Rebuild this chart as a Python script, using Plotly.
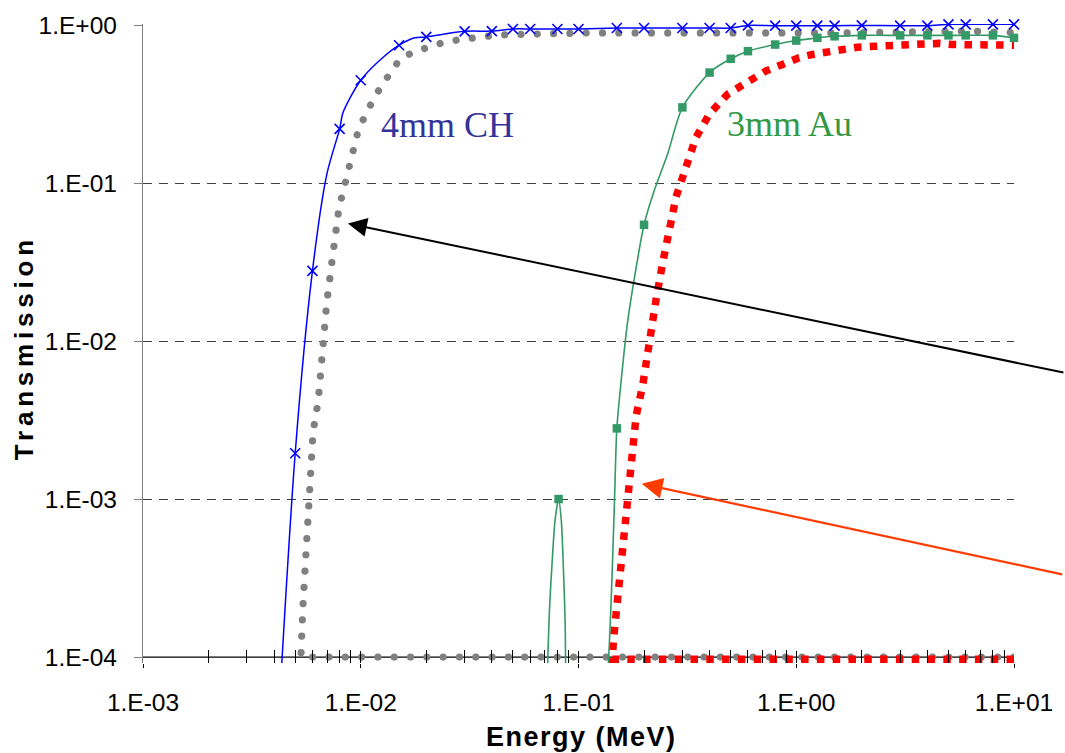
import numpy as np
import plotly.graph_objects as go

# ---------------- data ----------------
x_tick_vals = [1e-3, 1e-2, 1e-1, 1e0, 1e1]
x_tick_text = ["1.E-03", "1.E-02", "1.E-01", "1.E+00", "1.E+01"]
y_tick_vals = [1e-4, 1e-3, 1e-2, 1e-1, 1e0]
y_tick_text = ["1.E-04", "1.E-03", "1.E-02", "1.E-01", "1.E+00"]
x_minor_vals = [m * 10.0 ** d for d in (-3, -2, -1, 0) for m in range(2, 10)]

# 4mm CH : blue line + x markers
ch_line_E = [0.004, 0.005, 0.006, 0.007, 0.008, 0.0083, 0.01, 0.0126, 0.015, 0.0177, 0.02,
             0.03, 0.04, 0.05, 0.06, 0.08, 0.1, 0.15, 0.2, 0.3, 0.4, 0.5, 0.6, 0.8, 1.0,
             1.25, 1.5, 2, 3, 4, 5, 6, 8, 10]
ch_line_T = [1.3e-5, 1.95e-3, 0.0278, 0.115, 0.22, 0.28, 0.447, 0.62, 0.745, 0.83, 0.841,
             0.912, 0.915, 0.944, 0.944, 0.944, 0.944, 0.957, 0.957, 0.957, 0.957, 0.957,
             0.994, 0.99, 0.99, 0.99, 0.99, 0.994, 0.99, 0.99, 1.01, 1.01, 1.01, 1.01]
ch_mark_E = [0.005, 0.006, 0.008, 0.01, 0.015, 0.02, 0.03, 0.04, 0.05, 0.06, 0.08, 0.1,
             0.15, 0.2, 0.3, 0.4, 0.5, 0.6, 0.8, 1.0, 1.25, 1.5, 2, 3, 4, 5, 6, 8, 10]
ch_mark_T = [1.95e-3, 0.0278, 0.22, 0.447, 0.745, 0.841, 0.912, 0.915, 0.944, 0.944, 0.944,
             0.944, 0.957, 0.957, 0.957, 0.957, 0.957, 0.994, 0.99, 0.99, 0.99, 0.99, 0.994,
             0.99, 0.99, 1.01, 1.01, 1.01, 1.01]

# grey dotted curve (runs along the floor, then up)
gray_E = [10, 0.00531, 0.00542, 0.00559, 0.00579, 0.00588, 0.00604, 0.00637, 0.00662,
          0.00698, 0.00746, 0.00779, 0.00796, 0.0083, 0.0086, 0.00897, 0.00939, 0.0098,
          0.01051, 0.01139, 0.01245, 0.01359, 0.0151, 0.01738, 0.0205, 0.0241, 0.02866,
          0.03394, 0.04046, 0.0479, 0.0675, 0.1123, 0.359, 1.75, 6.0, 10]
gray_T = [1e-4, 1e-4, 2.04e-4, 4.08e-4, 8.3e-4, 1.67e-3, 2.67e-3, 4.12e-3, 8.5e-3, 0.0175,
          0.0361, 0.0557, 0.071, 0.088, 0.111, 0.1406, 0.177, 0.222, 0.276, 0.335, 0.4115,
          0.4995, 0.6054, 0.673, 0.734, 0.777, 0.809, 0.841, 0.857, 0.869, 0.882, 0.891,
          0.891, 0.891, 0.915, 0.895]

# 3mm Au : green line + square markers
au_line_E = [0.0717, 0.0738, 0.0759, 0.078, 0.081, 0.0834, 0.0852, 0.0868, 0.0876, 0.1,
             0.1355, 0.1413, 0.1463, 0.15, 0.157, 0.1684, 0.2, 0.2232, 0.2568, 0.3,
             0.4, 0.5, 0.6, 0.8, 1.0, 1.25, 1.5, 2, 3, 4, 5, 6, 8, 10]
au_line_T = [7e-5, 2.18e-4, 4.26e-4, 7.28e-4, 1.0e-3, 7.28e-4, 3.7e-4, 1.71e-4, 7e-5, 1e-6,
             7e-5, 2.29e-4, 9.7e-4, 2.8e-3, 5.6e-3, 0.0135, 0.0544, 0.0902, 0.153,
             0.301, 0.50, 0.611, 0.683, 0.752, 0.797, 0.829, 0.848, 0.86, 0.86, 0.86, 0.86,
             0.86, 0.86, 0.829]
au_mark_E = [0.081, 0.15, 0.2, 0.3, 0.4, 0.5, 0.6, 0.8, 1.0, 1.25, 1.5, 2, 3, 4, 5, 6, 8, 10]
au_mark_T = [1.0e-3, 2.8e-3, 0.0544, 0.301, 0.50, 0.611, 0.683, 0.752, 0.797, 0.829, 0.848,
             0.86, 0.86, 0.86, 0.86, 0.86, 0.86, 0.829]

# red dotted curve (floor, then up)
red_E = [10, 0.143, 0.1447, 0.1489, 0.1542, 0.1597, 0.1655, 0.1714, 0.1745, 0.184, 0.1972,
         0.2117, 0.2272, 0.2436, 0.2615, 0.2807, 0.3119, 0.3467, 0.399, 0.484, 0.6087,
         0.726, 0.865, 1.032, 1.188, 1.417, 1.911, 2.32, 3.186, 3.80, 4.53, 5.21, 6.22,
         7.41, 10]
red_T = [9.7e-5, 9.7e-5, 1.28e-4, 1.9e-4, 3.2e-4, 5.2e-4, 8.4e-4, 1.36e-3, 2.1e-3, 3.37e-3,
         5.26e-3, 0.0103, 0.0184, 0.0313, 0.0531, 0.0819, 0.1265, 0.195, 0.273, 0.365,
         0.4425, 0.512, 0.563, 0.621, 0.651, 0.683, 0.723, 0.734, 0.752, 0.765, 0.765,
         0.752, 0.752, 0.748, 0.745]

# text labels and arrow heads
label_text = ["4mm CH", "3mm Au"]
label_E = [0.0123, 0.477]
label_T = [0.232, 0.236]
arrow_head_E = [0.00873, 0.195]
arrow_head_T = [0.0555, 1.25e-3]

# ---------------- styling ----------------
W, H = 1065, 753
ML, MR, MT, MB = 143, 49, 19, 90
x_range = [-3, 1]
y_range = [-4.0377, 0.0063]
SANS = "Liberation Sans, Arial, sans-serif"
SERIF = "Liberation Serif, Times New Roman, serif"
BLUE = "#0000FF"
GREEN = "#339966"
GREY = "#808080"
RED = "#FF0000"

fig = go.Figure()

fig.add_trace(go.Scatter(x=gray_E, y=gray_T, mode="lines",
                         line=dict(color=GREY, width=7.2, dash="7px,9.3px"),
                         hoverinfo="skip", showlegend=False, cliponaxis=False))
fig.add_trace(go.Scatter(x=red_E, y=red_T, mode="lines",
                         line=dict(color=RED, width=7.5, dash="7.5px,8.3px"),
                         hoverinfo="skip", showlegend=False, cliponaxis=False))
fig.add_trace(go.Scatter(x=au_line_E, y=au_line_T, mode="lines",
                         line=dict(color=GREEN, width=1.6, shape="spline", smoothing=0.7),
                         hoverinfo="skip", showlegend=False))
fig.add_trace(go.Scatter(x=au_mark_E, y=au_mark_T, mode="markers",
                         marker=dict(symbol="square", size=8.5, color=GREEN),
                         hoverinfo="skip", showlegend=False, cliponaxis=False))
fig.add_trace(go.Scatter(x=ch_line_E, y=ch_line_T, mode="lines",
                         line=dict(color=BLUE, width=1.5, shape="spline", smoothing=0.8),
                         hoverinfo="skip", showlegend=False))
fig.add_trace(go.Scatter(x=ch_mark_E, y=ch_mark_T, mode="markers",
                         marker=dict(symbol="x-thin", size=10,
                                     line=dict(color=BLUE, width=1.6)),
                         hoverinfo="skip", showlegend=False, cliponaxis=False))
# invisible trace so that the overlaying tick axis is drawn
fig.add_trace(go.Scatter(x=ch_mark_E, y=ch_mark_T, xaxis="x2", mode="markers",
                         marker=dict(opacity=0), hoverinfo="skip", showlegend=False))

fig.update_layout(
    width=W, height=H, autosize=False,
    margin=dict(l=ML, r=MR, t=MT, b=MB),
    paper_bgcolor="white", plot_bgcolor="white",
    font=dict(family=SANS, size=24, color="black"),
    xaxis=dict(type="log", range=x_range, showgrid=False, zeroline=False,
               showline=False, tickmode="array", tickvals=x_tick_vals,
               ticktext=x_tick_text, ticks="outside", ticklen=4, tickwidth=1.3,
               tickcolor="black", ticklabelstandoff=14,
               tickfont=dict(family=SANS, size=24.5, color="black"),
               minor=dict(tickmode="array", tickvals=x_minor_vals, ticks="inside",
                          ticklen=13, tickwidth=1.2, tickcolor="black", showgrid=False)),
    xaxis2=dict(type="log", range=x_range, overlaying="x", anchor="y", side="bottom",
                showgrid=False, zeroline=False, showline=False, tickmode="array",
                tickvals=x_tick_vals, ticks="inside", ticklen=12, tickwidth=1.3,
                tickcolor="black", showticklabels=False),
    yaxis=dict(type="log", range=y_range, tickmode="array", tickvals=y_tick_vals,
               ticktext=y_tick_text, ticks="outside", ticklen=8, tickwidth=1.2,
               tickcolor=GREY, showline=True, linecolor=GREY, linewidth=1.3,
               showgrid=True, gridcolor="#404040", gridwidth=1, griddash="9px,7px",
               zeroline=False, ticklabelstandoff=12,
               tickfont=dict(family=SANS, size=24.5, color="black")),
)

# x axis line drawn at T = 1e-4
y_axis_frac = (np.log10(y_tick_vals[0]) - y_range[0]) / (y_range[1] - y_range[0])
fig.add_shape(type="line", xref="paper", yref="paper", x0=0, x1=1,
              y0=y_axis_frac, y1=y_axis_frac, line=dict(color="black", width=1.3),
              layer="between")

# axis titles
fig.add_annotation(xref="paper", yref="paper", x=-0.1363, y=0.493, xanchor="center",
                   yanchor="middle", textangle=-90, showarrow=False,
                   text='<span style="letter-spacing:4.8px"><b>Transmission</b></span>',
                   font=dict(family=SANS, size=26, color="black"))
fig.add_annotation(xref="paper", yref="paper", x=0.5034, y=-0.1165, xanchor="center",
                   yanchor="middle", showarrow=False,
                   text='<span style="letter-spacing:1.5px"><b>Energy (MeV)</b></span>',
                   font=dict(family=SANS, size=27, color="black"))

# curve labels
label_colors = ["#333399", "#339944"]
for t, e, tr, c in zip(label_text, label_E, label_T, label_colors):
    fig.add_annotation(x=np.log10(e), y=np.log10(tr), xref="x", yref="y", text=t,
                       showarrow=False, xanchor="left", yanchor="middle", borderpad=0,
                       font=dict(family=SERIF, size=36, color=c))

# arrows
arrow_colors = ["black", "#FF3C00"]
arrow_tail_px = [(717, 149.5), (422, 91)]
arrow_widths = [2.0, 2.2]
arrow_sizes = [1.9, 1.9]
for e, tr, c, (ax, ay), aw, asz in zip(arrow_head_E, arrow_head_T, arrow_colors,
                                       arrow_tail_px, arrow_widths, arrow_sizes):
    fig.add_annotation(x=np.log10(e), y=np.log10(tr), xref="x", yref="y", text="",
                       showarrow=True, arrowhead=2, arrowsize=asz, arrowwidth=aw,
                       arrowcolor=c, ax=ax, ay=ay, axref="pixel", ayref="pixel")

post = """
var gd = document.getElementById('{plot_id}');
function roundDots(){
  var paths = gd.querySelectorAll('path.js-line');
  paths.forEach(function(p){
    var s = (p.style.stroke || '').replace(/\\s/g, '');
    if (s === 'rgb(128,128,128)') {
      p.style.strokeDasharray = '0.01px,16.3px';
      p.style.strokeLinecap = 'round';
    }
  });
}
roundDots();
if (gd.on) { gd.on('plotly_afterplot', roundDots); }
"""

fig.write_html("out.html", post_script=post, config={"displayModeBar": False})
